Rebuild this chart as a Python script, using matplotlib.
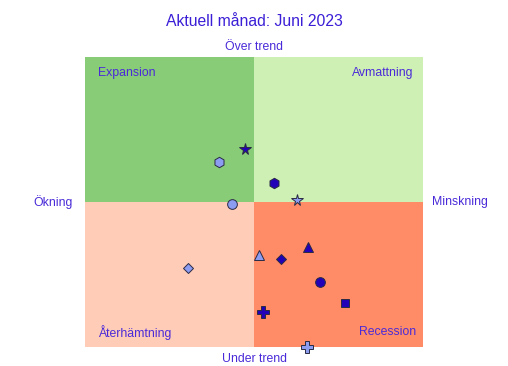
import matplotlib
matplotlib.use("Agg")
import matplotlib.pyplot as plt

plt.rcParams['font.family'] = ['Liberation Sans', 'DejaVu Sans']

title = "Aktuell månad: Juni 2023"
quadrant_labels = ["Expansion", "Avmattning", "Återhämtning", "Recession"]
axis_labels = {"top": "Över trend", "bottom": "Under trend", "left": "Ökning", "right": "Minskning"}

# points: x (change), y (level), marker, shade
xs = [-0.053, -0.207, 0.118, 0.254, -0.130, 0.320, 0.030, 0.160, -0.391, 0.391, 0.538, 0.053, 0.314]
ys = [0.366, 0.276, 0.131, 0.014, -0.014, -0.310, -0.366, -0.393, -0.455, -0.552, -0.697, -0.759, -1.0]
markers = ['*', 'h', 'h', '*', 'o', '^', '^', 'D', 'D', 'o', 's', 'P', 'P']
shades = ['dark', 'light', 'dark', 'light', 'light', 'dark', 'light', 'dark', 'light', 'dark', 'dark', 'dark', 'light']

colors = {'dark': '#2200b8', 'light': '#8c9cf0'}
text_color = '#4a2ad8'

fig = plt.figure(figsize=(5.08, 3.66), dpi=100)
ax = fig.add_axes([85/508, 1-347/366, 338/508, 290/366])
ax.set_xlim(-1, 1)
ax.set_ylim(-1, 1)

ax.fill_between([-1, 0], 0, 1, color='#88cc77', lw=0, zorder=0)
ax.fill_between([0, 1], 0, 1, color='#cff0b5', lw=0, zorder=0)
ax.fill_between([-1, 0], -1, 0, color='#ffccb8', lw=0, zorder=0)
ax.fill_between([0, 1], -1, 0, color='#ff8c66', lw=0, zorder=0)

for x, y, m, s in zip(xs, ys, markers, shades):
    size = {'*': 8.5, 'h': 7.5, 'o': 7, '^': 7, 'D': 5.2, 's': 6.3, 'P': 8}[m]
    ax.plot(x, y, marker=m, ms=size, color=colors[s], mec='#2a2a44', mew=0.7,
            ls='none', clip_on=False, zorder=3)

fs = 8.8
ax.text(-0.923, 0.889, quadrant_labels[0], color=text_color, fontsize=fs, ha='left', va='center')
ax.text(0.941, 0.889, quadrant_labels[1], color=text_color, fontsize=fs, ha='right', va='center')
ax.text(-0.923, -0.90, quadrant_labels[2], color=text_color, fontsize=fs, ha='left', va='center')
ax.text(0.959, -0.897, quadrant_labels[3], color=text_color, fontsize=fs, ha='right', va='center')

ax.text(0, 1.071, axis_labels['top'], color=text_color, fontsize=fs, ha='center', va='center')
ax.text(0, -1.082, axis_labels['bottom'], color=text_color, fontsize=fs, ha='center', va='center')
ax.text(-1.19, 0.0, axis_labels['left'], color=text_color, fontsize=fs, ha='center', va='center')
ax.text(1.219, 0.0, axis_labels['right'], color=text_color, fontsize=fs, ha='center', va='center')

fig.text(0.5, 1-22/366, title, color='#3a1fd6', fontsize=11.3, ha='center', va='center')

ax.axis('off')
fig.savefig("out.png", dpi=100)
